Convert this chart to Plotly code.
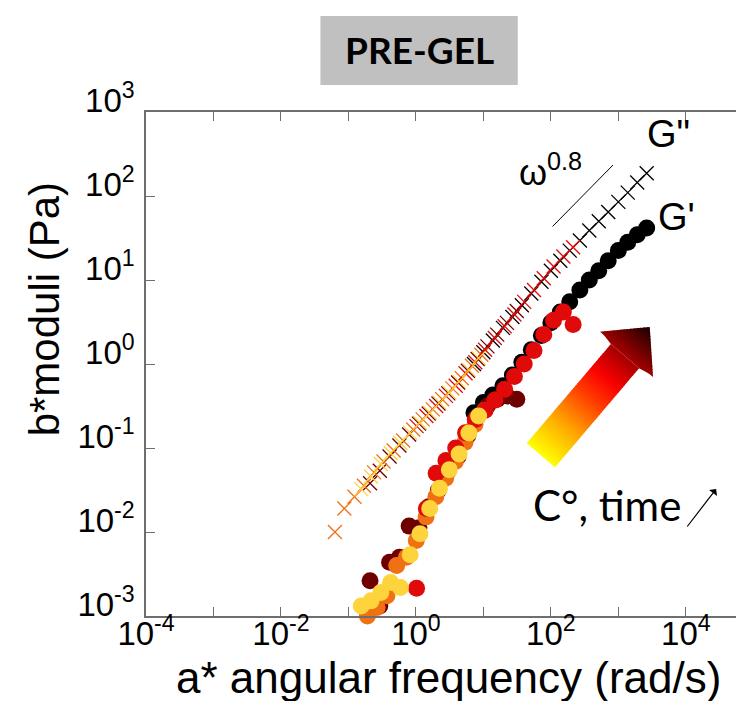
import plotly.graph_objects as go

# ---------------- data ----------------
# angular frequency (rad/s, already multiplied by a) and moduli (Pa, multiplied by b)
black_w = [7.244, 10.0, 13.80, 19.50, 26.92, 37.15, 51.29, 72.44, 100.0, 138.0, 190.5,
           269.2, 371.5, 512.9, 707.9, 1000, 1380, 1905, 2630]
black_Gp = [0.263, 0.347, 0.427, 0.550, 0.741, 1.047, 1.479, 2.188, 3.090, 4.169, 5.495,
            7.586, 10.0, 12.88, 16.98, 22.39, 28.18, 34.67, 41.69]
black_Gpp = [1.0, 1.380, 1.905, 2.692, 3.631, 5.012, 6.918, 9.550, 12.88, 16.98, 22.39,
             29.51, 38.90, 50.12, 64.57, 85.11, 109.6, 144.5, 186.2]

darkred_w = [0.209, 0.292, 0.407, 0.569, 0.794, 1.109, 1.549, 2.163, 3.020, 4.217, 5.888,
             8.222, 11.48, 16.03, 22.39, 31.26]
darkred_Gp = [2.63e-3, 1.318e-3, 4.365e-3, 5.012e-3, 0.01175, 0.01122, 0.01995, 0.0316,
              0.0537, 0.0794, 0.1413, 0.240, 0.316, 0.380, 0.417, 0.380]
darkred_Gpp = [0.0380, 0.0537, 0.0794, 0.1072, 0.1445, 0.1950, 0.257, 0.339, 0.447, 0.603,
               0.832, 1.148, 1.622, 2.239, 3.090, 4.266]

red_w = [1.023, 1.429, 1.995, 2.786, 3.890, 5.433, 7.586, 10.59, 14.79, 20.65, 28.84,
         40.27, 56.23, 78.52, 109.6, 153.1, 213.8]
red_Gp = [2.138e-3, 0.01905, 0.0501, 0.0708, 0.100, 0.1514, 0.2188, 0.2818, 0.3715, 0.501,
          0.708, 1.0, 1.445, 2.239, 3.311, 4.169, 2.951]
red_Gpp = [0.182, 0.240, 0.316, 0.417, 0.550, 0.776, 1.047, 1.479, 2.042, 2.818, 3.890,
           5.495, 7.586, 10.47, 14.45, 19.05, 24.55]

orange_w = [0.191, 0.266, 0.372, 0.519, 0.724, 1.012, 1.413, 1.972, 2.754, 3.846, 5.370,
            7.499, 10.47]
orange_Gp = [1.0e-3, 1.259e-3, 1.738e-3, 3.98e-3, 5.01e-3, 7.94e-3, 0.01514, 0.0263,
             0.0437, 0.0692, 0.1175, 0.1905, 0.282]
orange_w2 = [0.0631, 0.0871, 0.1230, 0.1698, 0.2399, 0.3311, 0.4677, 0.6457, 0.9120,
             1.259, 1.778, 2.455, 3.467, 4.786, 6.761, 9.333]
orange_Gpp = [0.0100, 0.01905, 0.0263, 0.0355, 0.0513, 0.0692, 0.0933, 0.1230, 0.166,
              0.219, 0.288, 0.380, 0.513, 0.676, 0.955, 1.288]

yellow_w = [0.155, 0.216, 0.302, 0.422, 0.589, 0.822, 1.148, 1.603, 2.239, 3.126, 4.365,
            6.095, 8.511]
yellow_Gp = [1.318e-3, 1.514e-3, 1.905e-3, 2.512e-3, 2.188e-3, 5.37e-3, 9.55e-3, 0.0191,
             0.0331, 0.0550, 0.0851, 0.151, 0.240]
yellow_Gpp = [0.0324, 0.0457, 0.0646, 0.0871, 0.1148, 0.1514, 0.1995, 0.263, 0.347, 0.457,
              0.617, 0.851, 1.175]

slope_w = [106, 835]        # omega^0.8 guide line
slope_G = [43.4, 234]

x_tickvals = [1e-4, 1e-3, 1e-2, 1e-1, 1e0, 1e1, 1e2, 1e3, 1e4]
x_ticktext = ["10<sup>-4</sup>", "", "10<sup>-2</sup>", "", "10<sup>0</sup>", "",
              "10<sup>2</sup>", "", "10<sup>4</sup>"]
y_tickvals = [1e-3, 1e-2, 1e-1, 1e0, 1e1, 1e2, 1e3]
y_ticktext = ["10<sup>-3</sup>", "10<sup>-2</sup>", "10<sup>-1</sup>", "10<sup>0</sup>",
              "10<sup>1</sup>", "10<sup>2</sup>", "10<sup>3</sup>"]

series = [  # name, color, w (G'), G', w (G''), G''
    ("black", "#000000", black_w, black_Gp, black_w, black_Gpp),
    ("darkred", "#6e0000", darkred_w, darkred_Gp, darkred_w, darkred_Gpp),
    ("orange", "#f07014", orange_w, orange_Gp, orange_w2, orange_Gpp),
    ("red", "#e00a0a", red_w, red_Gp, red_w, red_Gpp),
    ("yellow", "#fdd43c", yellow_w, yellow_Gp, yellow_w, yellow_Gpp),
]

# ---------------- layout geometry ----------------
W, H = 744, 701
ML, MR, MT, MB = 138, 0, 104, 93
PW, PH = W - ML - MR, H - MT - MB
DEC_X = 67.7
XMAX = -4 + PW / DEC_X


def paper(px, py):
    return (px - ML) / PW, (H - MB - py) / PH


fig = go.Figure()

# G'' crosses
for name, col, w1, gp, w2, gpp in series:
    fig.add_trace(go.Scatter(x=w2, y=gpp, mode="markers", name=name + " G''",
                             marker=dict(symbol="x-thin", size=14, color=col,
                                         line=dict(width=1.3, color=col)),
                             cliponaxis=False))
# G' circles
for name, col, w1, gp, w2, gpp in series:
    fig.add_trace(go.Scatter(x=w1, y=gp, mode="markers", name=name + " G'",
                             marker=dict(symbol="circle", size=17, color=col,
                                         line=dict(width=0)),
                             cliponaxis=False))

fig.add_trace(go.Scatter(x=slope_w, y=slope_G, mode="lines",
                         line=dict(color="black", width=1), cliponaxis=False))

axis_common = dict(type="log", showgrid=False, zeroline=False, showline=True,
                   linecolor="#6e6e6e", linewidth=1.5, ticks="inside", ticklen=9,
                   tickcolor="#6e6e6e", tickwidth=1.2, mirror="ticks",
                   tickfont=dict(family="Liberation Sans, Arial", size=33, color="black"))
fig.update_xaxes(range=[-4, XMAX], tickvals=x_tickvals, ticktext=x_ticktext,
                 ticklabelstandoff=-12, **axis_common)
fig.update_yaxes(range=[-3, 3], tickvals=y_tickvals, ticktext=y_ticktext,
                 ticklabelstandoff=3, ticklabelshift=-12, **axis_common)

shapes = []
# title box
bx0, by0 = paper(313, 77)
bx1, by1 = paper(511, 8)
shapes.append(dict(type="rect", xref="paper", yref="paper", x0=bx0, y0=by0, x1=bx1, y1=by1,
                   fillcolor="#c0c0c0", line=dict(width=0), layer="above"))

# gradient arrow (decoration)
C0 = (534.2, 447.2)
U = (0.649, -0.762)
N = (0.762, 0.649)
L_SHAFT, L_TIP, HW_SHAFT, HW_HEAD = 130.0, 168.3, 18.6, 37.2
stops = [(0.0, (255, 255, 0)), (0.22, (255, 170, 0)), (0.45, (255, 60, 0)),
         (0.6, (250, 0, 0)), (0.8, (150, 0, 0)), (1.0, (25, 0, 0))]


def col_at(f):
    for (f0, c0), (f1, c1) in zip(stops[:-1], stops[1:]):
        if f <= f1:
            k = (f - f0) / (f1 - f0) if f1 > f0 else 0
            return "rgb(%d,%d,%d)" % tuple(round(a + (b - a) * k) for a, b in zip(c0, c1))
    return "rgb(%d,%d,%d)" % stops[-1][1]


def pt(s, t):
    x = C0[0] + s * U[0] + t * N[0]
    y = C0[1] + s * U[1] + t * N[1]
    return paper(x, y)


def hw(s):
    if s <= L_SHAFT:
        return HW_SHAFT
    return HW_HEAD * (L_TIP - s) / (L_TIP - L_SHAFT)


nS = 40
edges = [L_SHAFT * i / nS for i in range(nS + 1)]
nH = 16
edges += [L_SHAFT + (L_TIP - L_SHAFT) * i / nH for i in range(1, nH + 1)]
for a, b in zip(edges[:-1], edges[1:]):
    b2 = min(b + 0.8, L_TIP)
    if a < L_SHAFT:
        b2 = min(b2, L_SHAFT + 0.01) if b <= L_SHAFT else b2
        ha = hb = HW_SHAFT
    else:
        ha, hb = hw(a), hw(b2)
    pts = [pt(a, -ha), pt(b2, -hb), pt(b2, hb), pt(a, ha)]
    path = "M " + " L ".join("%.5f,%.5f" % p for p in pts) + " Z"
    c = col_at((a + b) / 2 / L_TIP)
    shapes.append(dict(type="path", xref="paper", yref="paper", path=path,
                       fillcolor=c, line=dict(width=0), layer="above"))

annotations = []


def ann(px, py, text, size, family="Liberation Sans, Arial", bold=False, **kw):
    x, y = paper(px, py)
    annotations.append(dict(x=x, y=y, xref="paper", yref="paper", text=text,
                            showarrow=False, xanchor="center", yanchor="middle",
                            font=dict(family=family, size=size, color="black",
                                      weight="bold" if bold else "normal"), **kw))


ann(412, 41, "PRE-GEL", 37, family="Lato", bold=True)
ann(441, 669, "a* angular frequency (rad/s)", 44)
ann(36, 301, "b*moduli (Pa)", 42, textangle=-90)
ann(662, 126, 'G"', 38)
ann(670, 209, "G'", 38)
ann(544, 162, "ω<sup>0.8</sup>", 36)
ann(601, 497, "C°, time", 42, family="Lato")

hx, hy = paper(710, 481)
annotations.append(dict(x=hx, y=hy, xref="paper", yref="paper", text="", showarrow=True,
                        ax=-30, ay=39, arrowhead=1, arrowsize=1.4, arrowwidth=1.2,
                        arrowcolor="black"))

fig.update_layout(width=W, height=H, margin=dict(l=ML, r=MR, t=MT, b=MB),
                  plot_bgcolor="white", paper_bgcolor="white", showlegend=False,
                  shapes=shapes, annotations=annotations)

fig.write_html("out.html")
